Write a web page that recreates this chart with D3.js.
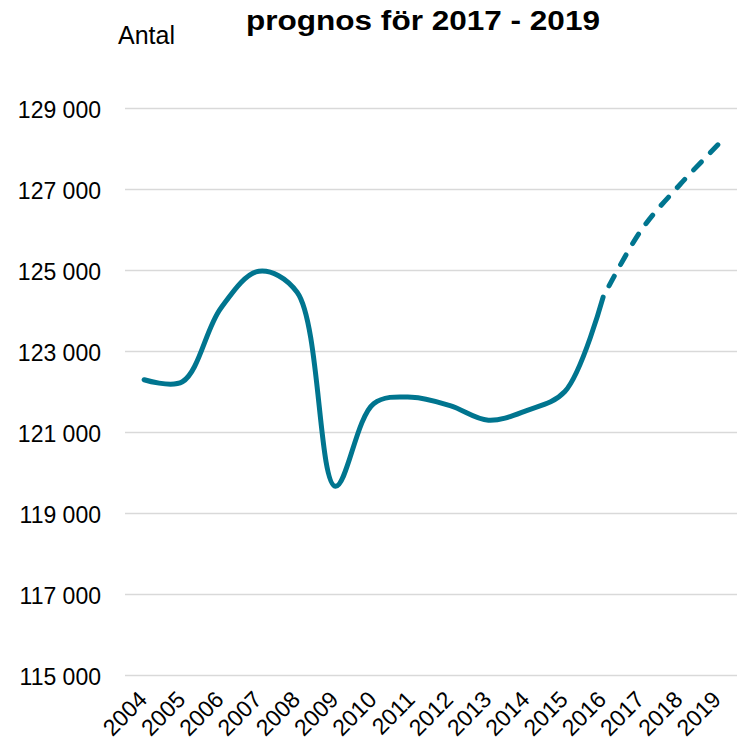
<!DOCTYPE html>
<html>
<head>
<meta charset="utf-8">
<script src="https://cdn.jsdelivr.net/npm/d3@7"></script>
<style>
  body { margin: 0; background: #fff; }
  text { font-family: Arial, "Liberation Sans", sans-serif; fill: #000; }
</style>
</head>
<body>
<div id="chart"></div>
<script>
// årtal på x-axeln
var years = ['2004', '2005', '2006', '2007', '2008', '2009', '2010', '2011',
             '2012', '2013', '2014', '2015', '2016', '2017', '2018', '2019'];

// utfall 2004 - 2016
var actual = [122290, 122240, 124050, 124970, 124450, 119660, 121700,
              121860, 121650, 121290, 121530, 122000, 124330];

// prognos 2016 - 2019
var forecastYears = ['2016', '2017', '2018', '2019'];
var forecast = [124330, 125990, 127100, 128090];

var yTicks = [115000, 117000, 119000, 121000, 123000, 125000, 127000, 129000];

var width = 738,
    height = 742,
    plotLeft = 125,
    plotRight = 737,
    plotTop = 108,
    plotBottom = 675;

var sv = d3.formatLocale({ decimal: ',', thousands: ' ', grouping: [3], currency: ['', ''] });
var fmt = sv.format(',');

var x = d3.scalePoint()
    .domain(years)
    .range([plotLeft, plotRight])
    .padding(0.5);

var y = d3.scaleLinear()
    .domain([115000, 129000])
    .range([plotBottom, plotTop]);

var svg = d3.select('#chart').append('svg')
    .attr('width', width)
    .attr('height', height);

// y-axel med stödlinjer
var yAxis = svg.append('g')
    .attr('transform', 'translate(' + plotLeft + ',0)')
    .call(d3.axisLeft(y)
        .tickValues(yTicks)
        .tickSize(-(plotRight - plotLeft))
        .tickPadding(24)
        .tickFormat(fmt));

yAxis.select('.domain').remove();
yAxis.selectAll('line')
    .attr('stroke', '#d9d9d9')
    .attr('stroke-width', 1.5);
yAxis.selectAll('text')
    .attr('dy', null)
    .attr('y', 9)
    .style('font-size', '23px');

// x-axel, roterade etiketter
var xAxis = svg.append('g')
    .attr('transform', 'translate(0,' + plotBottom + ')')
    .call(d3.axisBottom(x).tickSize(0));

xAxis.select('.domain').remove();
xAxis.selectAll('text')
    .attr('y', 0)
    .attr('dy', 0)
    .attr('text-anchor', 'end')
    .attr('transform', 'translate(4,26) rotate(-45)')
    .style('font-size', '23px');

var line = d3.line()
    .x(function(d) { return x(d[0]); })
    .y(function(d) { return y(d[1]); })
    .curve(d3.curveCatmullRom.alpha(0.5));

svg.append('path')
    .datum(years.slice(0, actual.length).map(function(yr, i) { return [yr, actual[i]]; }))
    .attr('d', line)
    .attr('fill', 'none')
    .attr('stroke', '#00758f')
    .attr('stroke-width', 5)
    .attr('stroke-linecap', 'round');

svg.append('path')
    .datum(forecastYears.map(function(yr, i) { return [yr, forecast[i]]; }))
    .attr('d', line)
    .attr('fill', 'none')
    .attr('stroke', '#00758f')
    .attr('stroke-width', 5)
    .attr('stroke-linecap', 'round')
    .attr('stroke-dasharray', '11,13')
    .attr('stroke-dashoffset', -13);

// rubrik och enhet
svg.append('text')
    .attr('x', 246)
    .attr('y', 30)
    .attr('textLength', 354)
    .attr('lengthAdjust', 'spacingAndGlyphs')
    .style('font-size', '28px')
    .style('font-weight', 'bold')
    .text('prognos för 2017 - 2019');

svg.append('text')
    .attr('x', 118)
    .attr('y', 44)
    .style('font-size', '25px')
    .text('Antal');
</script>
</body>
</html>
